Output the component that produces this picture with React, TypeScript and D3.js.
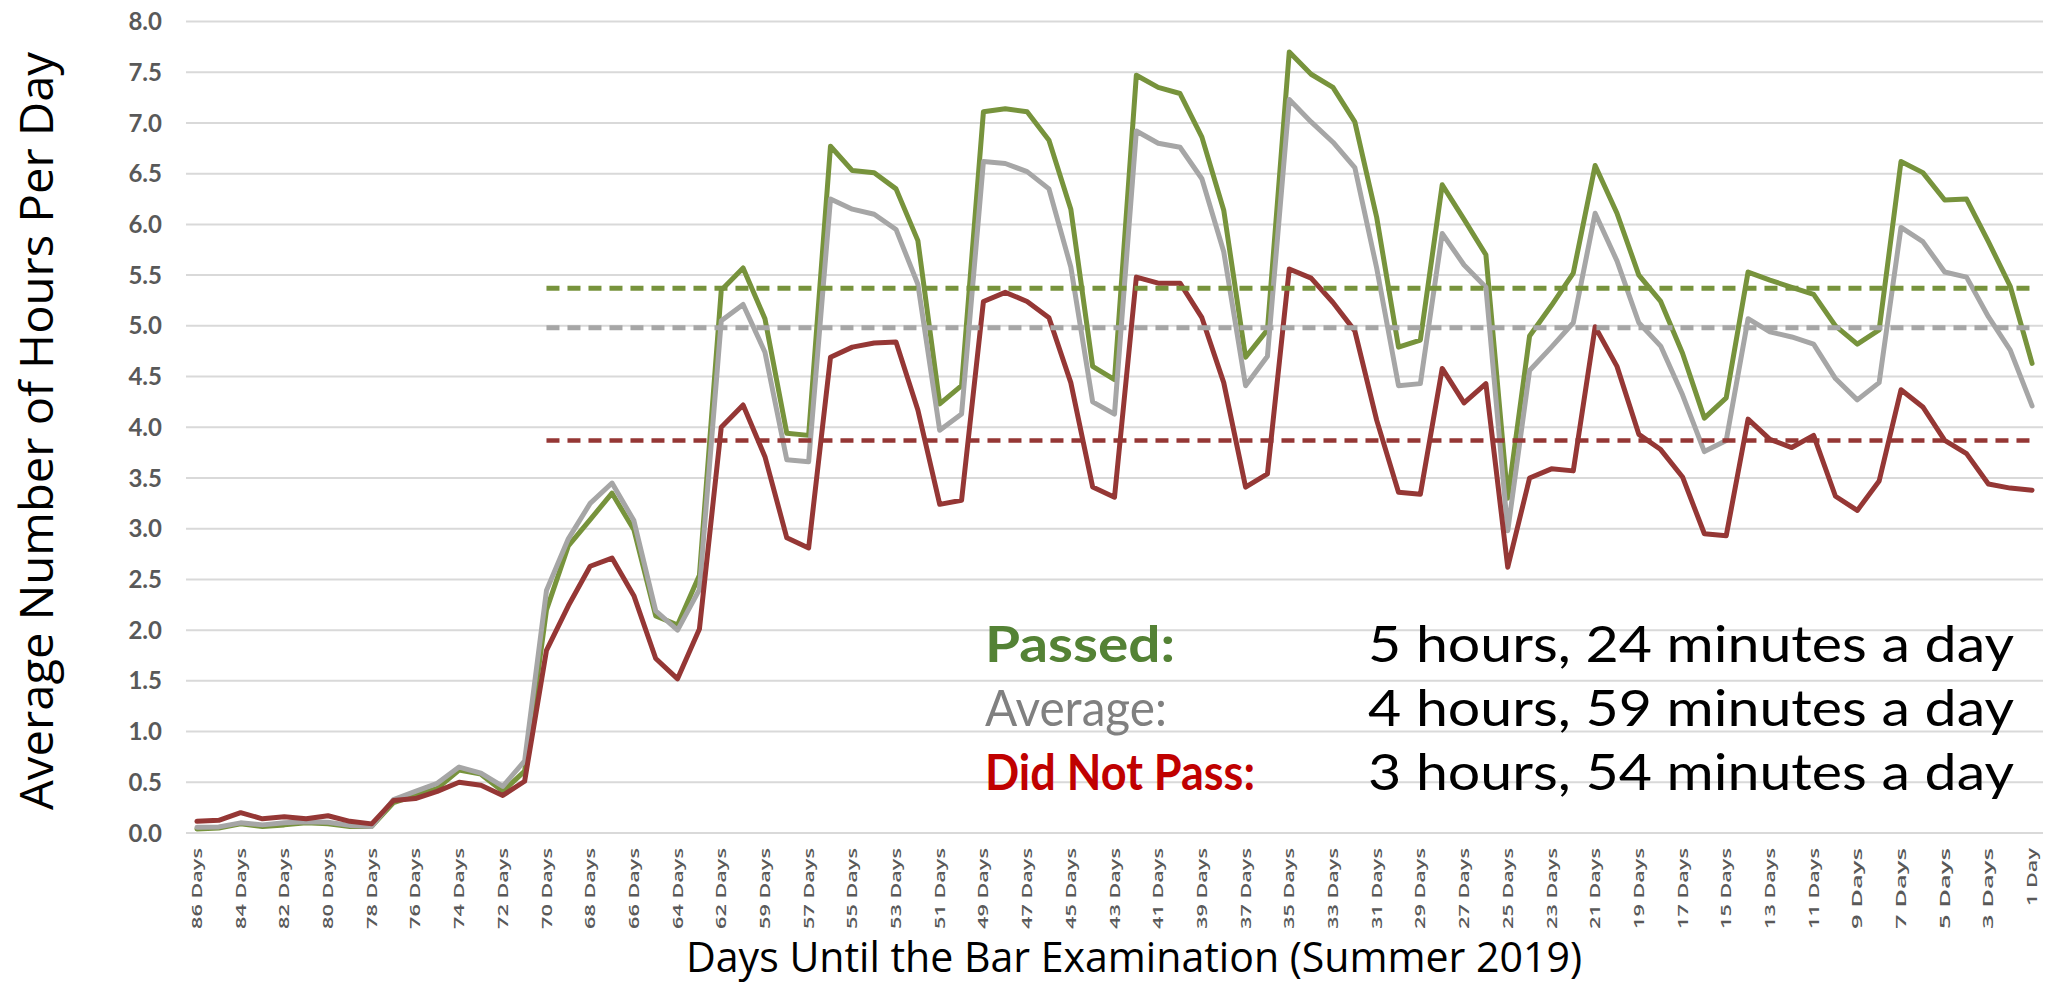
import * as d3 from 'd3';

// days until the exam (one day, 60, is missing in the source)
const days: string[] = [
  ...d3.range(86, 60, -1).map((d) => `${d} Days`),
  ...d3.range(59, 1, -1).map((d) => `${d} Days`),
  '1 Day',
];

const passed = [
  0.04, 0.05, 0.09, 0.065, 0.08, 0.1, 0.09, 0.065, 0.065, 0.3, 0.37, 0.44, 0.62, 0.58, 0.41, 0.61,
  2.2, 2.83, 3.09, 3.35, 2.99, 2.14, 2.05, 2.54, 5.35, 5.57, 5.07, 3.94, 3.92, 6.77, 6.53, 6.51,
  6.35, 5.84, 4.23, 4.41, 7.11, 7.14, 7.11, 6.83, 6.15, 4.6, 4.47, 7.47, 7.35, 7.29, 6.86, 6.14,
  4.69, 4.96, 7.7, 7.48, 7.35, 7.01, 6.07, 4.79, 4.86, 6.39, 6.05, 5.7, 3.3, 4.9, 5.2, 5.52,
  6.58, 6.11, 5.5, 5.24, 4.73, 4.09, 4.29, 5.53, 5.45, 5.38, 5.31, 5.0, 4.82, 4.96, 6.62, 6.51,
  6.24, 6.25, 5.83, 5.39, 4.63,
];

const average = [
  0.056, 0.06, 0.1, 0.08, 0.1, 0.11, 0.105, 0.075, 0.065, 0.33, 0.41, 0.49, 0.65, 0.59, 0.46, 0.71,
  2.39, 2.9, 3.25, 3.45, 3.08, 2.19, 2.0, 2.4, 5.05, 5.21, 4.74, 3.68, 3.66, 6.25, 6.15, 6.1,
  5.95, 5.41, 3.97, 4.13, 6.62, 6.6, 6.52, 6.35, 5.58, 4.25, 4.13, 6.92, 6.8, 6.76, 6.45, 5.73,
  4.41, 4.7, 7.23, 7.01, 6.81, 6.56, 5.57, 4.41, 4.43, 5.91, 5.6, 5.38, 2.98, 4.56, 4.79, 5.03,
  6.11, 5.64, 5.03, 4.8, 4.32, 3.76, 3.87, 5.07, 4.94, 4.89, 4.82, 4.48, 4.27, 4.44, 5.97, 5.83,
  5.53, 5.48, 5.09, 4.76, 4.21,
];

const didNotPass = [
  0.115, 0.125, 0.2, 0.14, 0.16, 0.14, 0.17, 0.115, 0.09, 0.32, 0.34, 0.41, 0.5, 0.47, 0.37, 0.51,
  1.8, 2.24, 2.63, 2.71, 2.34, 1.72, 1.52, 2.01, 4.0, 4.22, 3.71, 2.91, 2.81, 4.69, 4.79, 4.83,
  4.84, 4.17, 3.24, 3.28, 5.24, 5.33, 5.24, 5.08, 4.44, 3.41, 3.31, 5.48, 5.42, 5.42, 5.08, 4.44,
  3.41, 3.54, 5.56, 5.47, 5.23, 4.95, 4.07, 3.36, 3.34, 4.58, 4.24, 4.43, 2.62, 3.5, 3.59, 3.57,
  4.99, 4.6, 3.93, 3.78, 3.51, 2.95, 2.93, 4.08, 3.88, 3.8, 3.92, 3.32, 3.18, 3.47, 4.37, 4.2,
  3.87, 3.74, 3.44, 3.4, 3.38,
];

// period averages, drawn from 70 Days to 1 Day
const avgStart = '70 Days';
const avgPassed = 5.37;
const avgAverage = 4.98;
const avgDidNotPass = 3.87;

const yTicks = d3.range(0, 8.01, 0.5);

const legendLabels = ['Passed:', 'Average:', 'Did Not Pass:'];
const legendTexts = [
  '5 hours, 24 minutes a day',
  '4 hours, 59 minutes a day',
  '3 hours, 54 minutes a day',
];

const GREEN = '#77933c',
  GRAY = '#a6a6a6',
  RED = '#953735';

export default function App() {
  const width = 2049,
    height = 985,
    marginLeft = 186,
    marginRight = 6,
    marginTop = 21.5,
    bottomY = 833;

  const x = d3
    .scaleBand<string>()
    .domain(days)
    .range([marginLeft, width - marginRight])
    .padding(0);
  const cx = (d: string) => (x(d) as number) + x.bandwidth() / 2;

  const y = d3.scaleLinear().domain([0, 8]).range([bottomY, marginTop]);

  const line = d3
    .line<number>()
    .x((_, i) => cx(days[i]))
    .y((v) => y(v));

  const series = [
    { values: passed, color: GREEN },
    { values: average, color: GRAY },
    { values: didNotPass, color: RED },
  ];

  const avgLines = [
    { value: avgPassed, color: GREEN, w: 5 },
    { value: avgAverage, color: GRAY, w: 5 },
    { value: avgDidNotPass, color: RED, w: 4.5 },
  ];

  const legendColors = ['#548235', '#808080', '#c00000'];
  const legendWeights = [700, 400, 700];
  const legendWidths = [190, 182, 270];

  return (
    <svg
      width={width}
      height={height}
      viewBox={`0 0 ${width} ${height}`}
      style={{ position: 'absolute', left: 0, top: 0, background: '#fff' }}
    >
      {/* gridlines */}
      <g>
        {yTicks.map((t) => (
          <line
            key={t}
            x1={marginLeft}
            x2={width - marginRight}
            y1={y(t)}
            y2={y(t)}
            stroke="#d9d9d9"
            strokeWidth={2}
          />
        ))}
      </g>

      {/* y tick labels */}
      <g fontFamily="Lato, sans-serif" fontWeight={700} fontSize={24} fill="#595959">
        {yTicks.map((t) => (
          <text key={t} x={162} y={y(t)} dy="0.36em" textAnchor="end">
            {t.toFixed(1)}
          </text>
        ))}
      </g>

      {/* x tick labels, every other day */}
      <g fontFamily="'Open Sans', sans-serif" fontSize={14.5} fill="#595959" fontWeight={600}>
        {days
          .filter((_, i) => i % 2 === 0)
          .map((d) => (
            <text
              key={d}
              transform={`translate(${cx(d)},${bottomY + 15}) rotate(-90)`}
              textAnchor="end"
              dy="0.35em"
              textLength={d === '1 Day' ? 58 : 81}
              lengthAdjust="spacingAndGlyphs"
            >
              {d}
            </text>
          ))}
      </g>

      {/* legend text */}
      <g fontFamily="Lato, sans-serif" fontSize={50}>
        {legendLabels.map((l, i) => (
          <g key={l}>
            <text
              x={985}
              y={662 + i * 64}
              fill={legendColors[i]}
              fontWeight={legendWeights[i]}
              textLength={legendWidths[i]}
              lengthAdjust="spacingAndGlyphs"
            >
              {l}
            </text>
            <text
              x={1368}
              y={662 + i * 64}
              fill="#000"
              textLength={646}
              lengthAdjust="spacingAndGlyphs"
            >
              {legendTexts[i]}
            </text>
          </g>
        ))}
      </g>

      {/* data lines */}
      <g fill="none" strokeLinejoin="round" strokeLinecap="round">
        {series.map((s, k) => (
          <path key={k} d={line(s.values) ?? ''} stroke={s.color} strokeWidth={5} />
        ))}
      </g>

      {/* average dashed lines */}
      <g>
        {avgLines.map((a) => (
          <line
            key={a.color}
            x1={cx(avgStart)}
            x2={cx(days[days.length - 1])}
            y1={y(a.value)}
            y2={y(a.value)}
            stroke={a.color}
            strokeWidth={a.w}
            strokeDasharray="13 8"
          />
        ))}
      </g>

      {/* axis titles */}
      <text
        transform={`translate(53,431) rotate(-90)`}
        textAnchor="middle"
        fontFamily="'Open Sans', sans-serif"
        fontSize={46}
        fill="#000"
        textLength={758}
        lengthAdjust="spacingAndGlyphs"
      >
        Average Number of Hours Per Day
      </text>
      <text
        x={1134}
        y={972}
        textAnchor="middle"
        fontFamily="'Open Sans', sans-serif"
        fontSize={42}
        fill="#000"
        textLength={896}
        lengthAdjust="spacingAndGlyphs"
      >
        Days Until the Bar Examination (Summer 2019)
      </text>
    </svg>
  );
}
